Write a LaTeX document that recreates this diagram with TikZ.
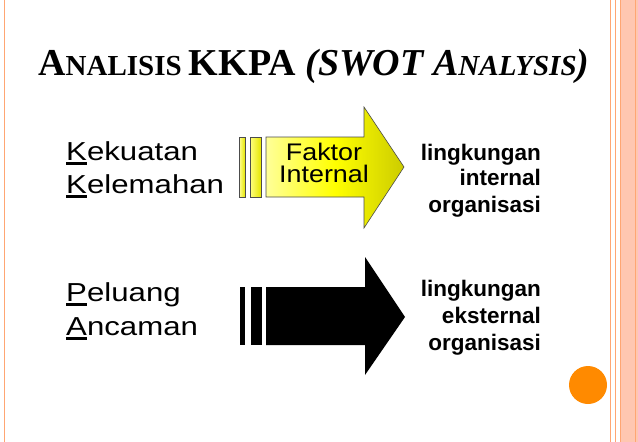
\documentclass[tikz,border=0pt]{standalone}
\usepackage{fontspec}
\setmainfont{Liberation Serif}
\setsansfont{Liberation Sans}
\begin{document}
\begin{tikzpicture}[x=1pt,y=-1pt,
  lbl/.style={font=\sffamily\fontsize{26}{30}\selectfont,anchor=base west,inner sep=0,xscale=1.2},
  rt/.style={font=\sffamily\bfseries\fontsize{22.5}{26}\selectfont,anchor=base east,inner sep=0},
  bord/.style={draw=orange!40!pink,line width=0.8pt}]
\useasboundingbox (0,0) rectangle (638,442);
\fill[white] (0,0) rectangle (638,442);
% borders
\draw[bord] (4,0) -- (4,442);
\fill[orange!25!pink!70] (620,0) rectangle (638,442);
\draw[bord] (610,0) -- (610,442);
\draw[bord] (615,0) -- (615,442);
\draw[bord] (620,0) -- (620,442);
\draw[bord] (635,0) -- (635,442);
\fill[orange!80!yellow!90!red] (588,385) circle (19);
% title
\node[anchor=base west,inner sep=0] (title) at (38,75) {\bfseries\fontsize{38}{40}\selectfont A\fontsize{29}{32}\selectfont NALISIS \fontsize{38}{40}\selectfont KKPA \itshape (SWOT A\fontsize{29}{32}\selectfont NALYSIS\fontsize{38}{40}\selectfont)};
% left labels
\node[lbl] (k1) at (66,160) {\rlap{\rule[-5pt]{17pt}{3.5pt}}Kekuatan};
\node[lbl] (k2) at (66,193) {\rlap{\rule[-5pt]{17pt}{3.5pt}}Kelemahan};
\node[lbl] (p1) at (66,301) {\rlap{\rule[-5pt]{17pt}{3.5pt}}Peluang};
\node[lbl] (p2) at (66,335) {\rlap{\rule[-5pt]{17pt}{3.5pt}}Ancaman};
% yellow arrow
\begin{scope}[line width=0.6pt]
\shade[left color=yellow!40,right color=yellow!90!black,draw=black!70] (239,137) rectangle (245,197);
\shade[left color=yellow!50,right color=yellow!90!black,draw=black!70] (250,137) rectangle (261,197);
\shade[left color=yellow!40,right color=yellow!80!black,middle color=yellow,draw=black!70] (266,137) -- (364,137) -- (364,107) -- (404,167) -- (364,228) -- (364,197) -- (266,197) -- cycle;
\end{scope}
\node[font=\sffamily\fontsize{24}{22}\selectfont,align=center,inner sep=0,xscale=1.12] (fi) at (324,163) {Faktor\\Internal};
% black arrow
\fill (240,287) rectangle (245,345);
\fill (251,287) rectangle (262,345);
\fill (266,287) -- (365,287) -- (365,257) -- (405,317) -- (365,375) -- (365,345) -- (266,345) -- cycle;
% right texts
\node[rt] (r1) at (541,160) {lingkungan};
\node[rt] (r2) at (541,185) {internal};
\node[rt] (r3) at (541,212) {organisasi};
\node[rt] (s1) at (541,296) {lingkungan};
\node[rt] (s2) at (541,323) {eksternal};
\node[rt] (s3) at (541,350) {organisasi};
\end{tikzpicture}
\end{document}
